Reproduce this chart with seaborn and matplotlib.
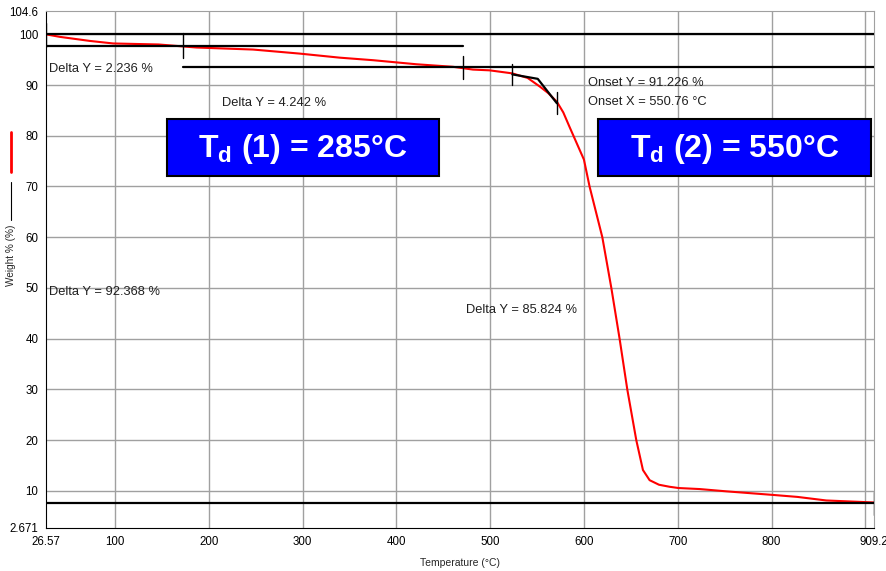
import matplotlib
matplotlib.use("Agg")
import matplotlib.pyplot as plt
from matplotlib.lines import Line2D
from matplotlib.patches import Rectangle
import seaborn as sns
import pandas as pd

# TGA curve
temp = [26.57, 41.4, 73.3, 98.2, 146.6, 187, 247.3, 297.1, 339.7, 375.2, 421.4,
        460.4, 481.7, 499.5, 523.7, 540, 553, 562, 571.2, 578, 585, 590, 600, 606,
        612.8, 619.6, 629.2, 638, 646.2, 655.8, 662.9, 670, 680, 691.3, 700.9,
        723.3, 751.7, 801, 827.6, 858.3, 896.9, 909.2]
weight = [100, 99.5, 98.7, 98.2, 98.0, 97.4, 97.0, 96.2, 95.4, 94.9, 94.1,
          93.6, 93.05, 92.9, 92.3, 91.4, 89.7, 88.4, 86.7, 84.6, 81.6, 79.5, 75.3, 70,
          65, 60, 50, 40, 30, 20, 14.1, 12.1, 11.2, 10.8, 10.55,
          10.35, 9.9, 9.2, 8.8, 8.1, 7.8, 7.7]

# step analysis levels (y) and their x extents
step_y = [100, 97.764, 93.522, 7.632]
step_x0 = [26.57, 26.57, 172.4, 26.57]
step_x1 = [909.2, 470.8, 909.2, 909.2]

# short vertical markers at the ends of the steps
mark_x = [26.57, 172.4, 470.8, 523.7, 571.2, 909.2]
mark_lo = [97.6, 95.3, 91.1, 89.95, 84.2, 5.2]
mark_hi = [102.2, 100.2, 95.7, 94.2, 88.6, 9.8]

# onset tangents
onset_x = [523.7, 550.76, 571.2]
onset_y = [92.1, 91.226, 86.4]

xticks = [26.57, 100, 200, 300, 400, 500, 600, 700, 800, 909.2]
xticklabels = ["26.57", "100", "200", "300", "400", "500", "600", "700", "800", "909.2"]
yticks = [2.671, 10, 20, 30, 40, 50, 60, 70, 80, 90, 100, 104.6]
yticklabels = ["2.671", "10", "20", "30", "40", "50", "60", "70", "80", "90", "100", "104.6"]

notes = [
    (29.8, 93.1, "Delta Y = 2.236 %"),
    (213.7, 86.5, "Delta Y = 4.242 %"),
    (604, 90.4, "Onset Y = 91.226 %"),
    (604, 86.6, "Onset X = 550.76 \u00b0C"),
    (29.8, 49.2, "Delta Y = 92.368 %"),
    (474, 45.7, "Delta Y = 85.824 %"),
]

boxes = [
    (155.3, 445.5, 72.0, 83.35, r"T$_{\rm d}$ (1) = 285°C"),
    (614.9, 905.5, 72.0, 83.35, r"T$_{\rm d}$ (2) = 550°C"),
]

sns.set_style("white")
plt.rcParams["font.family"] = ["Liberation Sans", "DejaVu Sans"]
plt.rcParams["mathtext.fontset"] = "custom"
plt.rcParams["mathtext.rm"] = "Liberation Sans:bold"

W, H = 886, 571
fig = plt.figure(figsize=(W / 100, H / 100), dpi=100)
ax = fig.add_axes([46 / W, 1 - 528 / H, (874 - 46) / W, (528 - 11) / H])

ax.set_xlim(26.57, 909.2)
ax.set_ylim(2.671, 104.6)

for gx in [100, 200, 300, 400, 500, 600, 700, 800, 900]:
    ax.axvline(gx, color="#a0a0a0", lw=1, zorder=0)
for gy in [10, 20, 30, 40, 50, 60, 70, 80, 90, 100]:
    ax.axhline(gy, color="#a0a0a0", lw=1, zorder=0)

df = pd.DataFrame({"temp": temp, "weight": weight})
sns.lineplot(data=df, x="temp", y="weight", color="red", lw=1.5, sort=False,
             ax=ax, zorder=3)

for y, x0, x1 in zip(step_y, step_x0, step_x1):
    ax.plot([x0, x1], [y, y], color="black", lw=1.6, zorder=4)
for x, lo, hi in zip(mark_x, mark_lo, mark_hi):
    ax.plot([x, x], [lo, hi], color="black", lw=1.0, zorder=4)
ax.plot(onset_x, onset_y, color="black", lw=1.6, zorder=4)

for x, y, s in notes:
    ax.text(x, y, s, fontsize=9.3, va="center", ha="left",
            color="#202020", zorder=5)

for x0, x1, y0, y1, s in boxes:
    ax.add_patch(Rectangle((x0, y0), x1 - x0, y1 - y0, facecolor="#0000ff",
                           edgecolor="black", lw=1.5, zorder=6))
    ax.text((x0 + x1) / 2, (y0 + y1) / 2 - 0.3, s, color="white", fontsize=23,
            fontweight="bold", ha="center", va="center", zorder=7)

ax.set_xticks(xticks)
ax.set_xticklabels(xticklabels)
ax.set_yticks(yticks)
ax.set_yticklabels(yticklabels)
ax.tick_params(axis="both", labelsize=8.3, direction="inout", length=5, width=1,
               colors="black", pad=3)
ax.set_xlabel("")
ax.set_ylabel("")
for s in ["left", "bottom"]:
    ax.spines[s].set_color("black")
for s in ["top", "right"]:
    ax.spines[s].set_color("#a0a0a0")

fig.text(460 / W, 1 - 563 / H, "Temperature (\u00b0C)", fontsize=7.5,
         ha="center", va="center")
fig.text(11 / W, 1 - 255 / H, "Weight % (%)", fontsize=7.2,
         rotation=90, ha="center", va="center")
fig.add_artist(Line2D([11 / W, 11 / W], [1 - 220 / H, 1 - 182 / H],
                      color="black", lw=0.8))
fig.add_artist(Line2D([11 / W, 11 / W], [1 - 172 / H, 1 - 132 / H],
                      color="red", lw=2))

fig.savefig("out.png", dpi=100)
